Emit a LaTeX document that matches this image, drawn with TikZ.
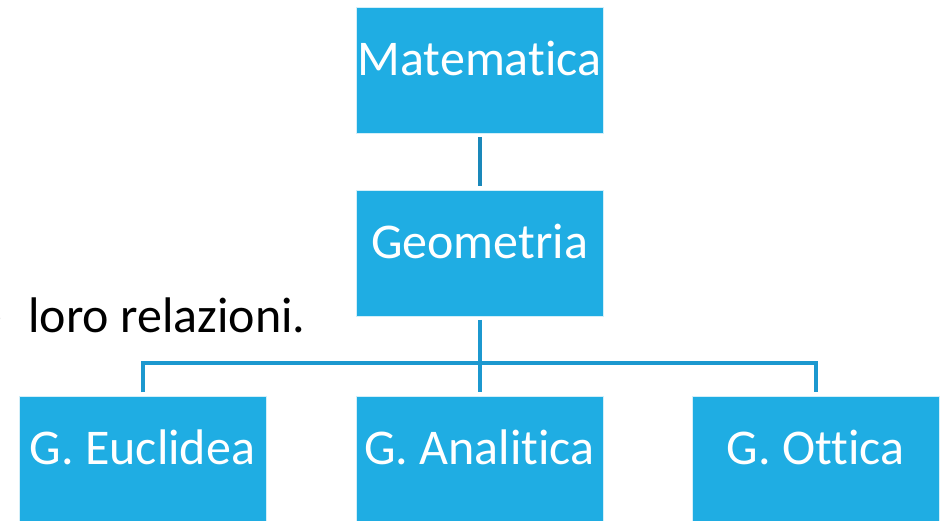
\documentclass[tikz,border=0pt]{standalone}
\usepackage{fontspec}
\setmainfont{Carlito}[Ligatures={NoCommon}]
\definecolor{smBox}{HTML}{1FADE3}
\definecolor{smLink}{HTML}{1C98CF}
\definecolor{smLinkDk}{HTML}{1A88BA}
\usetikzlibrary{positioning}

\begin{document}
\begin{tikzpicture}[
  x=1pt,y=-1pt,
  font=\fontsize{50pt}{60pt}\selectfont,
  box/.style={fill=smBox,draw=white!80!smBox,line width=0.6pt,text=white,
              minimum width=247pt,minimum height=126pt,inner sep=0pt,
              text height=41pt,text depth=30pt},
  link/.style={draw=smLink,line width=4pt,shorten <=3.5pt,shorten >=3.5pt},
]
\useasboundingbox (0,0) rectangle (944,520);
\clip (0,0) rectangle (944,520);
% text of the slide behind the chart
\node[anchor=base west,inner sep=0pt,text=black] (txt) at (-23,332) {e\hspace{15pt} loro relazioni.};
% top levels
\node[box] (mat) at (479.5,70) {Matematica};
\node[box] (geo) at (479.5,253) {Geometria};
% bottom level
\node[box] (euc) at (142.5,459) {G. Euclidea};
\node[box] (ana) at (479.5,459) {G. Analitica};
\node[box] (ott) at (815.5,459) {G. Ottica};
% connectors
\coordinate (bus) at (479.5,363);
\draw[link,draw=smLinkDk] (mat) -- (geo);
\draw[link] (geo) -- (ana);
\draw[link] (euc.north) |- (bus) -| (ott.north);
\end{tikzpicture}
\end{document}
